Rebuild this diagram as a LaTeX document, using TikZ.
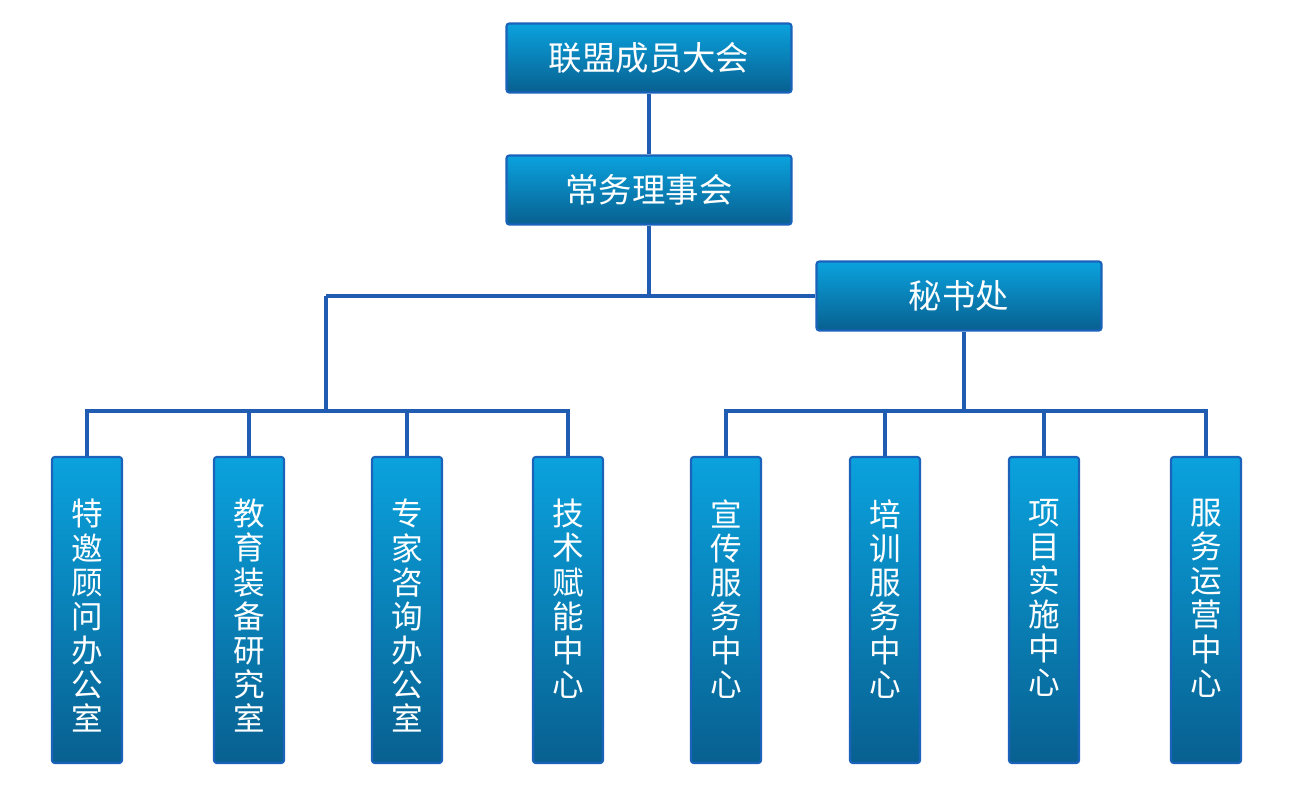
\documentclass[tikz,border=0pt]{standalone}
\usepackage{fontspec}
\newfontfamily\cjk{Noto Sans CJK SC}
\usetikzlibrary{positioning}
\definecolor{linkblue}{HTML}{1F5CB2}
\definecolor{boxtop}{HTML}{0AA2DE}
\definecolor{boxbot}{HTML}{086090}
\definecolor{boxedge}{HTML}{1A62BA}

\begin{document}
\begin{tikzpicture}[x=0.02cm,y=-0.02cm,
    hbox/.style={draw=boxedge,line width=1.2pt,rounded corners=1.5pt,
      top color=boxtop,bottom color=boxbot,minimum width=5.7cm,
      minimum height=1.38cm,text=white,font=\cjk\fontsize{19}{23}\selectfont},
    vbox/.style={hbox,minimum width=1.4cm,minimum height=6.12cm},
    vtext/.style={text=white,align=center,inner sep=0pt,
      font=\cjk\fontsize{18}{19.4}\selectfont},
    link/.style={draw=linkblue,line width=2pt}]
  \useasboundingbox (0,0) rectangle (1302,802);
  % upper levels
  \node[hbox] (meet) at (649,58) {联盟成员大会};
  \node[hbox] (board) at (649,190) {常务理事会};
  \node[hbox] (sec) at (959,296) {秘书处};
  % departments
  \foreach \n/\x/\t in {1/87/特\\邀\\顾\\问\\办\\公\\室,
      2/249/教\\育\\装\\备\\研\\究\\室,
      3/407/专\\家\\咨\\询\\办\\公\\室,
      4/568/技\\术\\赋\\能\\中\\心,
      5/726/宣\\传\\服\\务\\中\\心,
      6/885/培\\训\\服\\务\\中\\心,
      7/1044/项\\目\\实\\施\\中\\心,
      8/1206/服\\务\\运\\营\\中\\心}{
    \node[vbox] (d\n) at (\x,610) {};
    \node[vtext,anchor=north] (t\n) at ([yshift=-0.86cm]d\n.north) {\t};
  }
  \coordinate (lj) at (326,296);
  \coordinate (lb) at (326,411);
  \coordinate (rj) at ([xshift=0.1cm]sec.south);
  \coordinate (rb) at (rj |- lb);
  \draw[link] (meet) -- (board);
  \draw[link] (board.south) -- (board.south |- sec.west);
  \draw[link] (lj) -- (sec.west);
  \draw[link] (lj) -- (lb);
  \draw[link] (d1.north) |- (lb) -- (lb -| d4.north) -- (d4.north);
  \draw[link] (d2.north) -- (d2.north |- lb);
  \draw[link] (d3.north) -- (d3.north |- lb);
  \draw[link] (rj) -- (rb);
  \draw[link] (d5.north) |- (rb) -- (rb -| d8.north) -- (d8.north);
  \draw[link] (d6.north) -- (d6.north |- rb);
  \draw[link] (d7.north) -- (d7.north |- rb);
\end{tikzpicture}
\end{document}
